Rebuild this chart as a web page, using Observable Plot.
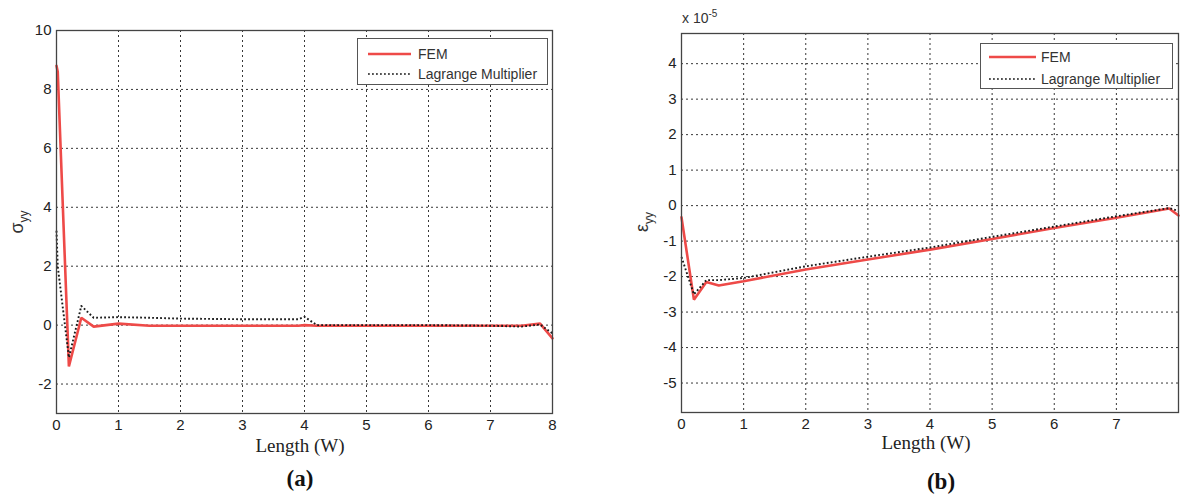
<!DOCTYPE html>
<html>
<head>
<meta charset="utf-8">
<script src="https://cdn.jsdelivr.net/npm/d3@7"></script>
<script src="https://cdn.jsdelivr.net/npm/@observablehq/plot@0.6"></script>
<style>
  body { margin: 0; background: #fff; }
  #fig { position: relative; width: 1194px; height: 496px; overflow: hidden;
         font-family: "Liberation Sans", Arial, sans-serif; color: #222; background: #fff; }
  .panel { position: absolute; top: 0; }
  .xlab { position: absolute; transform: translate(-50%, -50%); white-space: nowrap; line-height: 1;
          font-family: "Liberation Serif", "Times New Roman", serif; font-size: 19px; color: #222; }
  .cap { position: absolute; transform: translate(-50%, -50%); white-space: nowrap; line-height: 1;
         font-family: "Liberation Serif", "Times New Roman", serif; font-size: 23px; font-weight: bold; color: #111; }
  .ylab { position: absolute; transform: translate(-50%, -50%) rotate(-90deg); white-space: nowrap;
          font-size: 18px; color: #333; }
  .ylab sub { font-size: 12px; }
  .expo { position: absolute; font-size: 14px; color: #333; white-space: nowrap; }
  .expo sup { font-size: 10px; }
  .legend { position: absolute; border: 1px solid #555; background: #fff; box-sizing: border-box; }
  .legend .row { position: absolute; left: 0; display: flex; align-items: center; font-size: 14px; color: #333; transform: translateY(-50%); }
</style>
</head>
<body>
<div id="fig"></div>
<script>
// Panel (a): normal stress sigma_yy along the length (in units of W)
const lengthA = [0, 0.02, 0.2, 0.4, 0.6, 1.0, 1.5, 2, 3, 3.9, 4.0, 4.2, 5, 6, 7, 7.5, 7.8, 8];
const femStressA = [8.8, 8.6, -1.4, 0.25, -0.05, 0.05, -0.02, -0.02, -0.02, -0.02, 0.0, -0.02, -0.02, -0.02, -0.02, -0.02, 0.05, -0.45];
const lagrangeStressA = [3.2, 2.0, -1.1, 0.65, 0.25, 0.27, 0.25, 0.22, 0.2, 0.2, 0.28, 0.0, 0.0, 0.0, -0.02, -0.05, 0.02, -0.28];

// Panel (b): strain epsilon_yy along the length, values in units of 1e-5
const lengthB = [0, 0.2, 0.4, 0.6, 1, 2, 3, 4, 5, 6, 7, 7.85, 8];
const femStrainB = [-0.33, -2.65, -2.15, -2.25, -2.13, -1.8, -1.52, -1.24, -0.94, -0.63, -0.34, -0.08, -0.28];
const lagrangeStrainB = [-1.45, -2.5, -2.1, -2.1, -2.04, -1.71, -1.44, -1.18, -0.88, -0.59, -0.3, -0.07, -0.15];

const ticksXA = [0, 1, 2, 3, 4, 5, 6, 7, 8];
const ticksYA = [-2, 0, 2, 4, 6, 8, 10];
const ticksXB = [0, 1, 2, 3, 4, 5, 6, 7];
const ticksYB = [-5, -4, -3, -2, -1, 0, 1, 2, 3, 4];

const seriesNames = ["FEM", "Lagrange Multiplier"];
const red = "#ee4a48";
const ink = "#1a1a1a";
const dotted = "1.8,2.2";

const fig = document.getElementById("fig");

function table(xs, ys) { return xs.map((x, i) => ({x, y: ys[i]})); }

function panel({left, width, margins, xDomain, yDomain, xTicks, yTicks, fem, lag}) {
  const chart = Plot.plot({
    width, height: 496,
    marginLeft: margins[0], marginRight: margins[1], marginTop: margins[2], marginBottom: margins[3],
    style: { fontFamily: "'Liberation Sans', Arial, sans-serif", fontSize: "15px", color: "#222", background: "transparent", overflow: "visible" },
    x: { domain: xDomain },
    y: { domain: yDomain },
    marks: [
      Plot.gridX(xTicks, { stroke: "#222", strokeOpacity: 0.9, strokeDasharray: "2,3" }),
      Plot.gridY(yTicks, { stroke: "#222", strokeOpacity: 0.9, strokeDasharray: "2,3" }),
      Plot.axisX(xTicks, { tickSize: 0, tickPadding: 6, fontSize: 15, tickFormat: d => String(d), label: null }),
      Plot.axisY(yTicks, { tickSize: 0, tickPadding: 5, fontSize: 15, tickFormat: d => String(d), label: null }),
      Plot.line(fem, { x: "x", y: "y", stroke: red, strokeWidth: 2.6, strokeLinejoin: "miter" }),
      Plot.line(lag, { x: "x", y: "y", stroke: ink, strokeWidth: 1.9, strokeDasharray: dotted, strokeLinecap: "butt" }),
      Plot.frame({ stroke: "#444", strokeWidth: 1.3 })
    ]
  });
  chart.classList.add("panel");
  chart.style.left = left + "px";
  fig.appendChild(chart);
}

panel({
  left: 0, width: 597, margins: [56, 45, 30, 83],
  xDomain: [0, 8], yDomain: [-3, 10], xTicks: ticksXA, yTicks: ticksYA,
  fem: table(lengthA, femStressA), lag: table(lengthA, lagrangeStressA)
});
panel({
  left: 597, width: 597, margins: [84, 16, 33, 84],
  xDomain: [0, 8], yDomain: [-5.83, 4.85], xTicks: ticksXB, yTicks: ticksYB,
  fem: table(lengthB, femStrainB), lag: table(lengthB, lagrangeStrainB)
});

function addHTML(cls, html, x, y) {
  const d = document.createElement("div");
  d.className = cls; d.innerHTML = html;
  d.style.left = x + "px"; d.style.top = y + "px";
  fig.appendChild(d);
  return d;
}

addHTML("ylab", "σ<sub>yy</sub>", 19, 222);
addHTML("ylab", "ε<sub>yy</sub>", 644, 222);
addHTML("expo", "x 10<sup>-5</sup>", 682, 8);
addHTML("xlab", "Length (W)", 300, 445);
addHTML("xlab", "Length (W)", 926, 442);
addHTML("cap", "(a)", 300, 478);
addHTML("cap", "(b)", 941, 481);

function legend(x, y, w, h, rowsY, sampleX, sampleW, textX) {
  const box = document.createElement("div");
  box.className = "legend";
  Object.assign(box.style, { left: x + "px", top: y + "px", width: w + "px", height: h + "px" });
  seriesNames.forEach((name, i) => {
    const row = document.createElement("div");
    row.className = "row";
    row.style.top = rowsY[i] + "px";
    row.style.left = sampleX + "px";
    const dash = i === 0 ? "" : `stroke-dasharray="${dotted}"`;
    const col = i === 0 ? red : ink;
    const sw = i === 0 ? 2.4 : 1.7;
    row.innerHTML = `<svg width="${sampleW}" height="6" style="margin-right:${textX - sampleX - sampleW}px"><line x1="0" x2="${sampleW}" y1="3" y2="3" stroke="${col}" stroke-width="${sw}" ${dash}/></svg><span>${name}</span>`;
    box.appendChild(row);
  });
  fig.appendChild(box);
}

legend(357, 38, 191, 47, [15, 35], 10, 43, 60);
legend(980, 43, 193, 46, [13, 35], 8, 47, 60);
</script>
</body>
</html>
